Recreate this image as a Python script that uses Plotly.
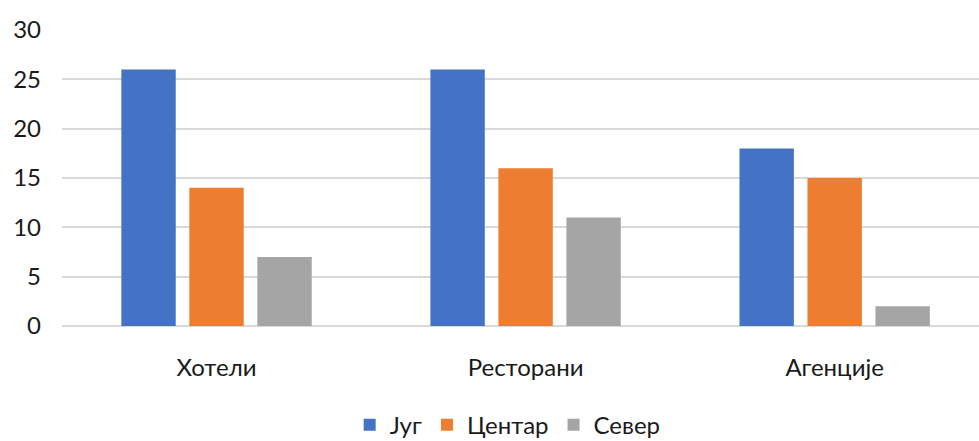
import plotly.graph_objects as go

categories = ["Хотели", "Ресторани", "Агенције"]
series_names = ["Југ", "Центар", "Север"]
jug = [26, 26, 18]
centar = [14, 16, 15]
sever = [7, 11, 2]
y_ticks = [0, 5, 10, 15, 20, 25, 30]

colors = ["#4472C4", "#ED7D31", "#A5A5A5"]
font_family = "Lato, 'Noto Sans', sans-serif"

fig = go.Figure()
for name, values, color in zip(series_names, [jug, centar, sever], colors):
    fig.add_trace(go.Bar(
        name=name,
        x=categories,
        y=values,
        marker=dict(color=color, line=dict(width=0)),
    ))

fig.update_layout(
    width=979,
    height=441,
    margin=dict(l=62, r=0, t=30, b=115, autoexpand=False),
    paper_bgcolor="white",
    plot_bgcolor="white",
    barmode="group",
    bargap=0.34,
    bargroupgap=0.2,
    font=dict(family=font_family, size=24, color="#1a1a1a"),
    showlegend=True,
    legend=dict(
        orientation="h",
        x=0.486,
        xanchor="center",
        y=-0.335,
        yanchor="middle",
        font=dict(size=24),
        itemwidth=30,
        traceorder="normal",
    ),
    xaxis=dict(
        range=[-0.5, 2.467],
        showgrid=False,
        showline=False,
        zeroline=False,
        ticks="outside",
        ticklen=20,
        tickcolor="rgba(0,0,0,0)",
        tickfont=dict(size=24),
    ),
    yaxis=dict(
        range=[0, 30],
        tickvals=y_ticks,
        showgrid=True,
        gridcolor="#D9D9D9",
        gridwidth=2,
        zeroline=True,
        zerolinecolor="#D9D9D9",
        zerolinewidth=2,
        showline=False,
        ticklabelstandoff=20,
        tickfont=dict(size=24),
    ),
)

fig.write_html("out.html")
